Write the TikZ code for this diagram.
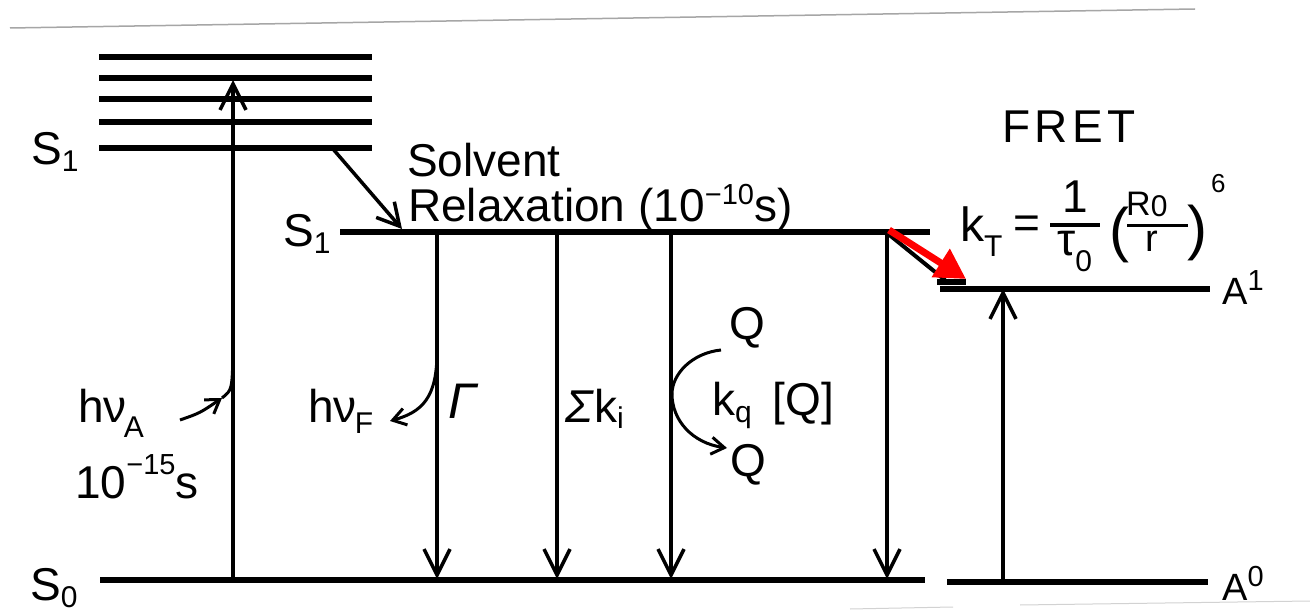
\documentclass[tikz,border=0pt]{standalone}
\usepackage{fontspec}
\setmainfont{Liberation Sans}
\usetikzlibrary{arrows.meta}
\newcommand\lo[2]{\raisebox{-#1}{\fontsize{30}{30}\selectfont #2}}
\newcommand\hi[2]{\raisebox{#1}{\fontsize{29}{30}\selectfont #2}}
\tikzset{
  lbl/.style={inner sep=0pt, anchor=base west, font=\fontsize{46}{50}\selectfont},
  level/.style={line width=5.5pt},
  trans/.style={line width=3.5pt, -{Straight Barb[length=26pt,width=26pt,line width=3.5pt]}},
  plain/.style={line width=3.5pt},
  curv/.style={line width=3pt, -{Straight Barb[length=13pt,width=17pt,line width=3pt]}},
  fret/.style={red, line width=7pt, -{Triangle[length=30pt,width=32pt]}},
  scan/.style={gray!70, line width=1.5pt}
}
\begin{document}
\begin{tikzpicture}[x=1pt,y=-1pt]
\useasboundingbox[fill=white] (0,0) rectangle (1310,612);
% scan artefacts
\coordinate (t1) at (10,28); \coordinate (t2) at (1195,9);
\draw[scan] (t1) -- (t2);
\coordinate (b1) at (850,609); \coordinate (b2) at (953,607);
\coordinate (b3) at (1020,605); \coordinate (b4) at (1310,601);
\draw[gray!35, line width=1pt] (b1) -- (b2) (b3) -- (b4);

% vibrational levels of S1 (Franck-Condon)
\foreach \y [count=\i] in {57,78,99,122,148}{
  \coordinate (v\i L) at (99,\y); \coordinate (v\i R) at (372,\y);
  \draw[level] (v\i L) -- (v\i R);
}
% relaxed S1
\coordinate (s1L) at (340,232); \coordinate (s1R) at (930,232);
\draw[level] (s1L) -- (s1R);
% S0
\coordinate (s0L) at (100,580); \coordinate (s0R) at (925,580);
\draw[level] (s0L) -- (s0R);
% acceptor levels
\coordinate (a1L) at (940,289); \coordinate (a1R) at (1210,289);
\draw[level] (a1L) -- (a1R);
\coordinate (stL) at (937,282); \coordinate (stR) at (966,282);
\draw[level] (stL) -- (stR);
\coordinate (a0L) at (947,582); \coordinate (a0R) at (1208,582);
\draw[level] (a0L) -- (a0R);

% absorption
\coordinate (absB) at (233,580); \coordinate (absT) at (233,80);
\draw[trans] (absB) -- (absT);
% solvent relaxation
\coordinate (srA) at (333,149); \coordinate (srB) at (402,229);
\draw[plain, -{Straight Barb[length=22pt,width=24pt,line width=3.5pt]}] (srA) -- (srB);
% decay channels
\foreach \x/\n in {437/f,557/k,671/q,887/t}{
  \coordinate (\n T) at (\x,232); \coordinate (\n B) at (\x,579);
  \draw[trans] (\n T) -- (\n B);
}
% FRET transfer
\coordinate (frA) at (887,233); \coordinate (frB) at (945,280);
\draw[line width=4pt] (frA) -- (frB);
\coordinate (rA) at (889,230); \coordinate (rB) at (966,279);
\draw[fret] (rA) -- (rB);
% acceptor absorption
\coordinate (acB) at (1003,582); \coordinate (acT) at (1003,289);
\draw[trans] (acB) -- (acT);

% photon curves
\coordinate (hA1) at (180,420); \coordinate (hA2) at (222,398); \coordinate (hA3) at (233,355);
\draw[curv] (hA1) .. controls (200,413) .. (hA2);
\draw[line width=3pt] (hA2) .. controls (232,390) .. (hA3);
\coordinate (hF1) at (437,352); \coordinate (hF2) at (390,421);
\draw[curv] (hF1) .. controls (437,398) and (422,412) .. (hF2);
% quenching curve
\coordinate (q1) at (721,350); \coordinate (q2) at (672,394); \coordinate (q3) at (727,448);
\draw[line width=3pt] (q1) .. controls (692,353) and (672,374) .. (q2);
\draw[curv] (q2) .. controls (672,420) and (692,443) .. (q3);

% labels
\node[lbl] (lS1a) at (31,165) {S\lo{7pt}{1}};
\node[lbl] (lS1b) at (283,247) {S\lo{7pt}{1}};
\node[lbl] (lS0) at (30,600) {S\lo{7pt}{0}};
\node[lbl] (lSolv) at (407,177) {Solvent};
\node[lbl] (lRelax) at (408,222) {Relaxation (10\hi{17pt}{−10}s)};
\node[lbl] (lFRET) at (1002,143) {\addfontfeature{LetterSpace=10}FRET};
\node[lbl] (lhA) at (78,422) {hν\kern-3pt\lo{15pt}{A}};
\node[lbl] (lt15) at (75,498) {10\hi{24pt}{−15}s};
\node[lbl] (lhF) at (308,422) {hν\kern-2pt\lo{11pt}{F}};
\node[lbl, font=\fontsize{50}{50}\selectfont\itshape] (lG) at (448,418) {Γ};
\node[lbl] (lSk) at (565,422) {\textit{Σ}k\lo{6pt}{i}};
\node[lbl] (lkq) at (712,415) {k\lo{8pt}{q}\hspace{8pt} [Q]};
\node[inner sep=0pt, font=\fontsize{46}{50}\selectfont] (lQt) at (747,328) {Q};
\node[inner sep=0pt, font=\fontsize{46}{50}\selectfont] (lQb) at (748,465) {Q};
\node[lbl, font=\fontsize{38}{40}\selectfont] (lA1) at (1222,305) {A\hi{14pt}{1}};
\node[lbl, font=\fontsize{38}{40}\selectfont] (lA0) at (1222,600) {A\hi{14pt}{0}};

% FRET rate formula
\node[lbl, font=\fontsize{48}{50}\selectfont] (fk) at (960,242) {k\lo{15pt}{T}};
\node[inner sep=0pt, font=\fontsize{46}{50}\selectfont] (feq) at (1027,227) {=};
\node[inner sep=0pt, font=\fontsize{46}{50}\selectfont] (fone) at (1075,197) {1};
\coordinate (fb1) at (1050,225); \coordinate (fb2) at (1100,225);
\draw[line width=3.5pt] (fb1) -- (fb2);
\node[lbl, font=\fontsize{46}{50}\selectfont] (ftau) at (1057,256) {τ\lo{16pt}{0}};
\node[inner sep=0pt, font=\fontsize{60}{60}\selectfont] (fpl) at (1119,235) {(};
\node[lbl, font=\fontsize{34}{34}\selectfont] (fR) at (1126,216) {R\lo{1pt}{0}};
\coordinate (fc1) at (1127,226); \coordinate (fc2) at (1188,226);
\draw[line width=3pt] (fc1) -- (fc2);
\node[lbl, font=\fontsize{38}{40}\selectfont] (fr) at (1145,252) {r};
\node[inner sep=0pt, font=\fontsize{60}{60}\selectfont] (fpr) at (1197,233) {)};
\node[lbl, font=\fontsize{26}{26}\selectfont] (fsix) at (1211,193) {6};
\end{tikzpicture}
\end{document}
